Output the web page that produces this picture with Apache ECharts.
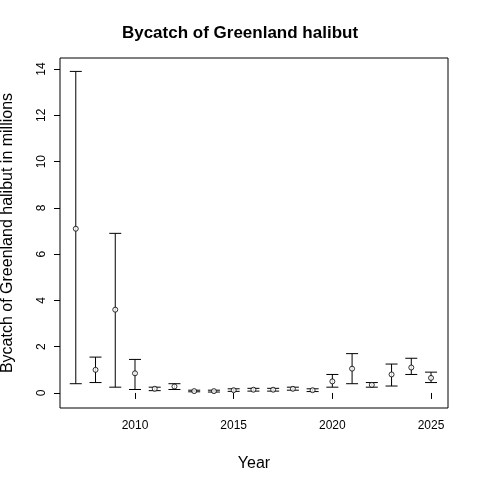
<!DOCTYPE html>
<html>
<head>
<meta charset="utf-8">
<script src="https://cdn.jsdelivr.net/npm/echarts@6/dist/echarts.min.js"></script>
<style>html,body{margin:0;padding:0;background:#fff;}#chart{width:480px;height:480px;}</style>
</head>
<body>
<div id="chart"></div>
<script>
var years = [2007,2008,2009,2010,2011,2012,2013,2014,2015,2016,2017,2018,2019,2020,2021,2022,2023,2024,2025];
var estimate = [7.1,1.0,3.6,0.85,0.18,0.28,0.08,0.08,0.12,0.14,0.14,0.18,0.12,0.5,1.05,0.35,0.8,1.1,0.65];
var lower = [0.4,0.45,0.25,0.15,0.1,0.15,0.05,0.04,0.07,0.08,0.08,0.12,0.06,0.25,0.4,0.25,0.3,0.8,0.45];
var upper = [13.9,1.55,6.9,1.45,0.25,0.4,0.12,0.12,0.18,0.2,0.2,0.25,0.18,0.8,1.7,0.45,1.25,1.5,0.9];
var xTicks = [2010,2015,2020,2025];
var yTicks = [0,2,4,6,8,10,12,14];

var chart = echarts.init(document.getElementById('chart'));
var font = 'Liberation Sans, Arial, sans-serif';
var errData = years.map(function(y, i){ return [y, lower[i], upper[i]]; });
var ptData = years.map(function(y, i){ return [y, estimate[i]]; });

chart.setOption({
  animation: false,
  title: {
    text: 'Bycatch of Greenland halibut', left: 'center', top: 20,
    textStyle: {fontFamily: font, fontSize: 17, fontWeight: 'bold', color: '#000'}
  },
  grid: {left: 60, right: 32, top: 58, bottom: 72, containLabel: false, outerBoundsMode: 'none',
    show: true, borderColor: '#000', borderWidth: 1, backgroundColor: 'transparent'},
  xAxis: {
    type: 'value', min: 2006.2, max: 2025.86,
    name: 'Year', nameLocation: 'middle', nameGap: 48,
    nameTextStyle: {fontFamily: font, fontSize: 16, color: '#000'},
    axisLine: {show: false}, splitLine: {show: false},
    axisTick: {show: true, length: 6, customValues: xTicks, lineStyle: {color: '#000'}},
    axisLabel: {customValues: xTicks, formatter: function(v){ return String(v); },
      fontFamily: font, fontSize: 12, color: '#000', margin: 12}
  },
  yAxis: {
    type: 'value', min: -0.65, max: 14.48,
    name: 'Bycatch of Greenland halibut in millions', nameLocation: 'middle', nameGap: 44,
    nameTextStyle: {fontFamily: font, fontSize: 16, color: '#000'},
    axisLine: {show: false}, splitLine: {show: false},
    axisTick: {show: true, length: 6, customValues: yTicks, lineStyle: {color: '#000'}},
    axisLabel: {customValues: yTicks, rotate: 90, fontFamily: font, fontSize: 12, color: '#000', margin: 12}
  },
  series: [
    {
      type: 'custom', data: errData,
      renderItem: function(params, api){
        var x = api.value(0);
        var lo = api.coord([x, api.value(1)]);
        var hi = api.coord([x, api.value(2)]);
        var w = 6;
        var st = {stroke: '#000', lineWidth: 1};
        return {type: 'group', children: [
          {type: 'line', shape: {x1: lo[0], y1: lo[1], x2: hi[0], y2: hi[1]}, style: st},
          {type: 'line', shape: {x1: lo[0]-w, y1: lo[1], x2: lo[0]+w, y2: lo[1]}, style: st},
          {type: 'line', shape: {x1: hi[0]-w, y1: hi[1], x2: hi[0]+w, y2: hi[1]}, style: st}
        ]};
      }
    },
    {
      type: 'scatter', data: ptData, symbol: 'circle', symbolSize: 5,
      itemStyle: {color: '#fff', borderColor: '#000', borderWidth: 1}, z: 5
    }
  ]
});
</script>
</body>
</html>
